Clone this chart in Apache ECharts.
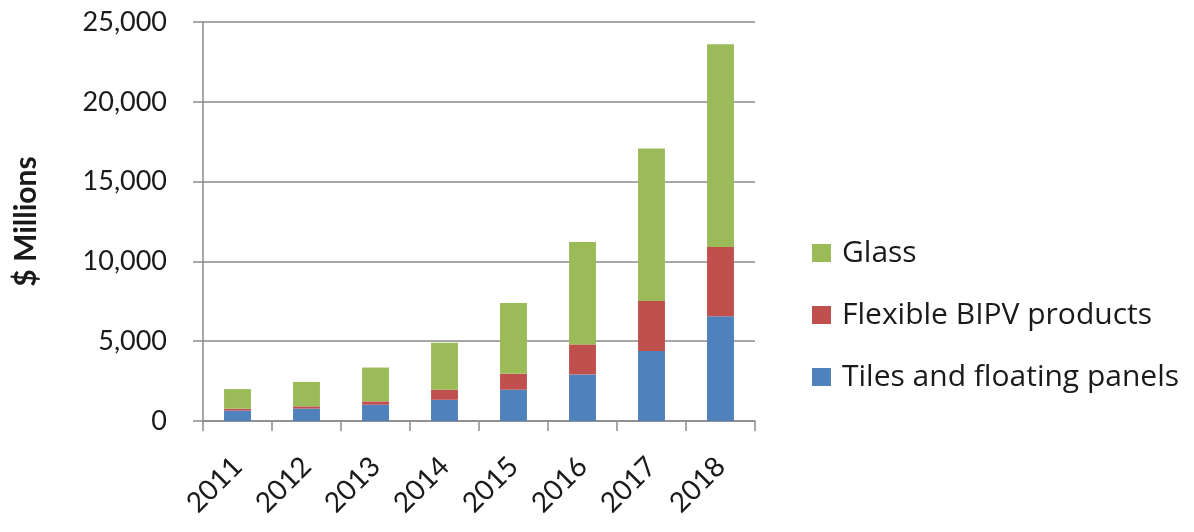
<!DOCTYPE html>
<html>
<head>
<meta charset="utf-8">
<script src="https://cdn.jsdelivr.net/npm/echarts@6/dist/echarts.min.js"></script>
<style>
html,body{margin:0;padding:0;background:#fff;}
#chart{width:1194px;height:532px;}
</style>
</head>
<body>
<div id="chart"></div>
<script>
const categories = ['2011','2012','2013','2014','2015','2016','2017','2018'];
const tiles = [650, 780, 1020, 1330, 1960, 2920, 4380, 6560];
const flexible = [120, 140, 210, 630, 1000, 1880, 3140, 4350];
const glass = [1230, 1530, 2120, 2940, 4440, 6420, 9560, 12700];
const yTicks = [0, 5000, 10000, 15000, 20000, 25000];

const FONT = 'Lato, "Open Sans", sans-serif';
const chart = echarts.init(document.getElementById('chart'));
chart.setOption({
  animation: false,
  backgroundColor: '#fff',
  grid: { left: 203, right: 439, top: 22, bottom: 111, containLabel: false },
  legend: {
    orient: 'vertical',
    left: 807,
    top: 232,
    itemWidth: 19,
    itemHeight: 18,
    itemGap: 30,
    icon: 'rect',
    data: ['Glass', 'Flexible BIPV products', 'Tiles and floating panels'],
    textStyle: { fontFamily: '"Open Sans", sans-serif', fontSize: 30, lineHeight: 32, color: '#1a1a1a', padding: [0, 0, 0, 6] }
  },
  xAxis: {
    type: 'category',
    data: categories,
    axisLine: { lineStyle: { color: '#8a8a8a', width: 1.5 } },
    axisTick: { show: true, alignWithLabel: false, length: 10, lineStyle: { color: '#8a8a8a', width: 1.5 } },
    axisLabel: { rotate: 45, margin: 41, fontFamily: FONT, fontSize: 28, color: '#1a1a1a' }
  },
  yAxis: {
    type: 'value',
    min: yTicks[0],
    max: yTicks[yTicks.length - 1],
    interval: 5000,
    name: '$ Millions',
    nameLocation: 'middle',
    nameGap: 162,
    nameTextStyle: { fontFamily: FONT, fontSize: 30, fontWeight: 'bold', color: '#1a1a1a' },
    axisLine: { show: true, lineStyle: { color: '#8a8a8a', width: 1.5 } },
    axisTick: { show: true, inside: false, length: 10, lineStyle: { color: '#8a8a8a', width: 1.5 } },
    splitLine: { show: true, lineStyle: { color: '#8a8a8a', width: 1.5 } },
    axisLabel: {
      margin: 36,
      fontFamily: FONT,
      fontSize: 27,
      color: '#1a1a1a',
      formatter: v => v.toLocaleString('en-US')
    }
  },
  series: [
    { name: 'Tiles and floating panels', type: 'bar', stack: 'a', data: tiles, barWidth: '39%', itemStyle: { color: '#4f81bd' } },
    { name: 'Flexible BIPV products', type: 'bar', stack: 'a', data: flexible, itemStyle: { color: '#c0504d' } },
    { name: 'Glass', type: 'bar', stack: 'a', data: glass, itemStyle: { color: '#9bbb59' } }
  ]
});
</script>
</body>
</html>
